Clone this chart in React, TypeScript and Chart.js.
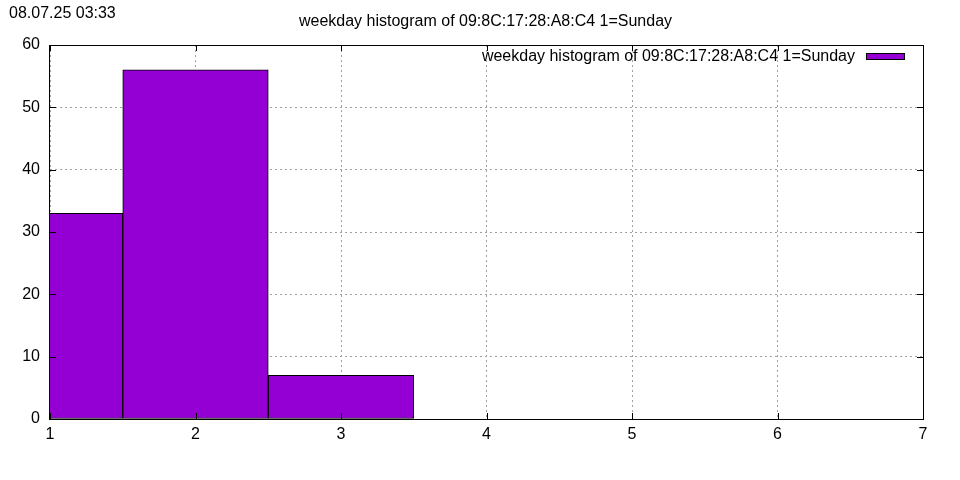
import React, { useEffect, useRef } from "react";
import { Chart, registerables } from "chart.js";

Chart.register(...registerables);

const weekdays = [1, 2, 3];
const counts = [33, 56, 7];
const xTicks = [1, 2, 3, 4, 5, 6, 7];
const yTicks = [0, 10, 20, 30, 40, 50, 60];
const titleText = "weekday histogram of 09:8C:17:28:A8:C4 1=Sunday";
const legendText = "weekday histogram of 09:8C:17:28:A8:C4 1=Sunday";
const stampText = "08.07.25 03:33";

const FONT = "'Liberation Sans', Arial, sans-serif";
const PURPLE = "#9400d3";

const framePlugin = {
  id: "gnuframe",
  afterDraw(chart: any) {
    const { ctx, chartArea } = chart;
    const { left, right, top, bottom } = chartArea;
    const xs = chart.scales.x;
    const ys = chart.scales.y;
    ctx.save();
    ctx.strokeStyle = "#000";
    ctx.lineWidth = 1;
    ctx.strokeRect(Math.round(left) - 0.5, Math.round(top) + 0.5, Math.round(right) - Math.round(left) + 1, Math.round(bottom) - Math.round(top));
    ctx.beginPath();
    xTicks.forEach((v) => {
      const px = Math.round(xs.getPixelForValue(v)) + 0.5;
      ctx.moveTo(px, bottom);
      ctx.lineTo(px, bottom - 6);
      ctx.moveTo(px, top);
      ctx.lineTo(px, top + 6);
    });
    yTicks.forEach((v) => {
      const py = Math.round(ys.getPixelForValue(v)) + 0.5;
      ctx.moveTo(left, py);
      ctx.lineTo(left + 6, py);
      ctx.moveTo(right, py);
      ctx.lineTo(right - 6, py);
    });
    ctx.stroke();

    ctx.fillStyle = "#000";
    ctx.font = `16px ${FONT}`;
    ctx.textBaseline = "middle";
    ctx.textAlign = "left";
    ctx.fillText(stampText, 9, 14);
    ctx.textAlign = "center";
    ctx.fillText(titleText, 485.5, 22);
    ctx.textAlign = "right";
    ctx.fillText(legendText, 855, 57);
    ctx.fillStyle = PURPLE;
    ctx.fillRect(866, 53, 39, 7);
    ctx.strokeRect(866.5, 53.5, 38, 6);
    ctx.restore();
  },
};

export default function App() {
  const ref = useRef<HTMLCanvasElement>(null);
  useEffect(() => {
    const chart = new Chart(ref.current!, {
      type: "bar",
      data: {
        datasets: [
          {
            label: legendText,
            data: weekdays.map((d, i) => ({ x: d, y: counts[i] })),
            backgroundColor: PURPLE,
            borderColor: "#000",
            borderWidth: 1,
            borderSkipped: false,
            barPercentage: 1,
            categoryPercentage: 1,
            clip: { left: 0, top: 5, right: 5, bottom: 1 },
          } as any,
        ],
      },
      plugins: [framePlugin],
      options: {
        animation: false,
        responsive: false,
        maintainAspectRatio: false,
        devicePixelRatio: 1,
        layout: { padding: { left: 0, top: 45, right: 37, bottom: 0 } },
        plugins: {
          legend: { display: false },
          title: { display: false },
          tooltip: { enabled: false },
        },
        scales: {
          x: {
            type: "linear",
            min: 1,
            max: 7,
            offset: false,
            afterBuildTicks: (s: any) => {
              s.ticks = xTicks.map((v) => ({ value: v }));
            },
            afterFit: (s: any) => {
              s.height = 61;
            },
            ticks: {
              color: "#000",
              font: { family: FONT, size: 16 },
              padding: 6,
              maxRotation: 0,
              autoSkip: false,
            },
            grid: {
              offset: false,
              drawTicks: false,
              color: "#a0a0a0",
              lineWidth: 1,
            },
            border: { display: false, dash: [2, 3] },
          },
          y: {
            min: 0,
            max: 60,
            afterBuildTicks: (s: any) => {
              s.ticks = yTicks.map((v) => ({ value: v }));
            },
            afterFit: (s: any) => {
              s.width = 50;
            },
            ticks: {
              color: "#000",
              font: { family: FONT, size: 16 },
              padding: 10,
              autoSkip: false,
            },
            grid: {
              drawTicks: false,
              color: "#a0a0a0",
              lineWidth: 1,
            },
            border: { display: false, dash: [2, 3] },
          },
        },
      },
    });
    return () => chart.destroy();
  }, []);
  return (
    <div style={{ position: "absolute", left: 0, top: 0, width: 960, height: 480, background: "#fff" }}>
      <canvas ref={ref} width={960} height={480} style={{ display: "block", width: 960, height: 480 }} />
    </div>
  );
}
